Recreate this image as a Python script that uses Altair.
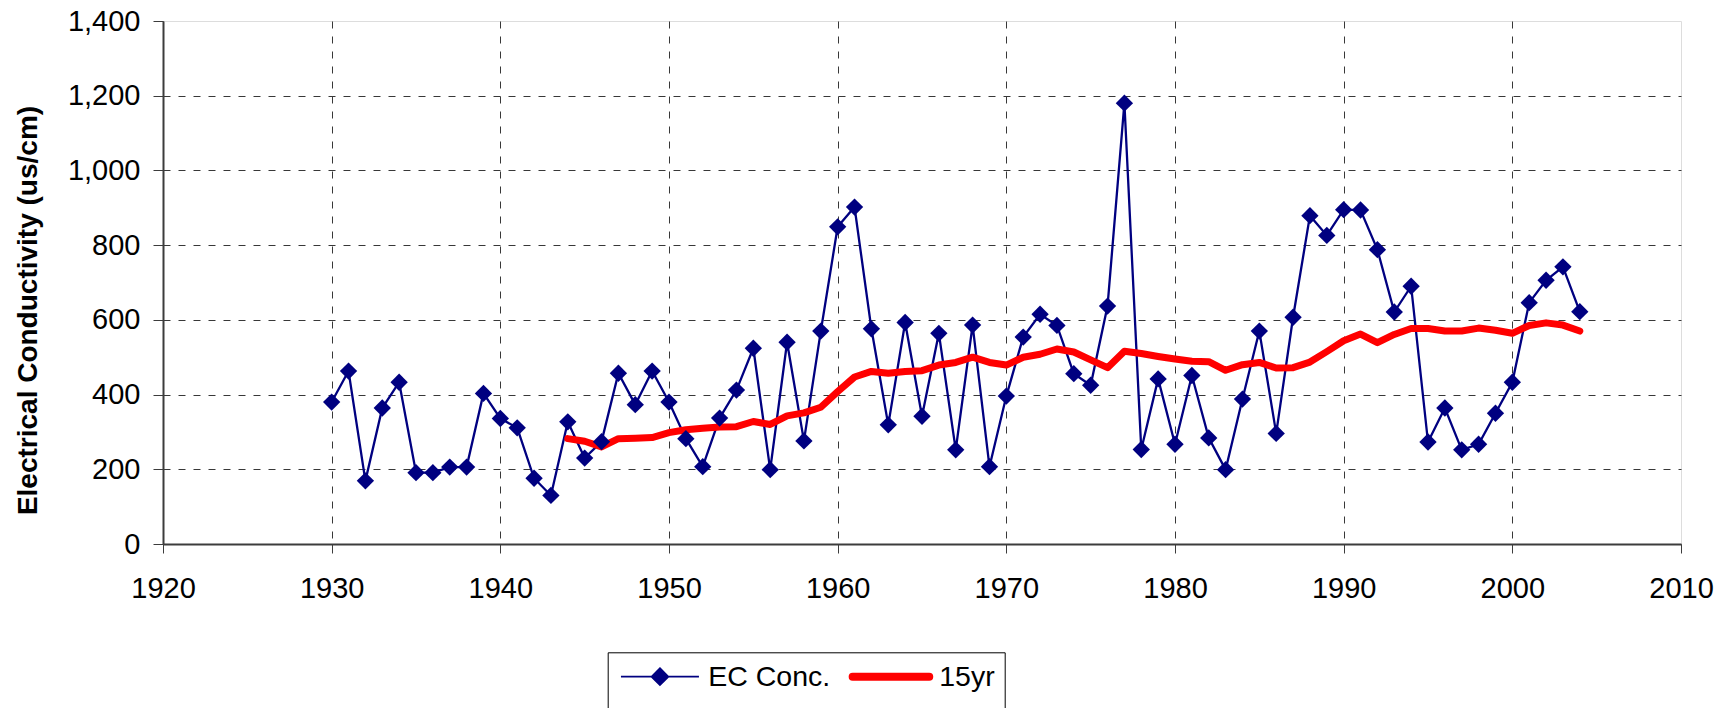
import altair as alt
import pandas as pd

# ---- data ----
ec_years = list(range(1930, 2005))
ec_values = [380, 463, 169, 364, 433, 191, 191, 206, 206, 403,
             336, 311, 176, 130, 327, 230, 274, 457, 373, 463,
             380, 282, 207, 337, 412, 524, 199, 540, 276, 570,
             849, 902, 576, 319, 593, 342, 564, 252, 586, 207,
             396, 554, 615, 585, 456, 425, 637, 1180, 253, 442,
             267, 451, 284, 199, 388, 570, 296, 607, 879, 826,
             895, 894, 788, 621, 690, 273, 364, 252, 267, 350,
             433, 646, 706, 742, 622]

avg_years = list(range(1944, 2005))
avg_values = [282, 275, 260, 282, 283, 285, 298, 306, 310, 313,
              314, 328, 320, 343, 351, 366, 408, 447, 462, 457,
              462, 464, 479, 486, 500, 486, 479, 500, 508, 522,
              514, 493, 472, 516, 510, 502, 495, 489, 488, 465,
              480, 486, 471, 472, 487, 515, 544, 562, 539, 561,
              577, 577, 570, 570, 578, 572, 564, 585, 592, 586, 570]

series_names = ["EC Conc.", "15yr"]
series_colors = ["#000080", "#ff0000"]
x_ticks = [1920, 1930, 1940, 1950, 1960, 1970, 1980, 1990, 2000, 2010]
y_ticks = [0, 200, 400, 600, 800, 1000, 1200, 1400]

ec_df = pd.DataFrame({"year": ec_years, "value": ec_values, "series": series_names[0]})
avg_df = pd.DataFrame({"year": avg_years, "value": avg_values, "series": series_names[1]})
all_df = pd.concat([ec_df, avg_df], ignore_index=True)

FONT = "Liberation Sans"
GRID = "#383838"

x_axis = alt.Axis(
    values=x_ticks, format="d", title=None,
    labelFont=FONT, labelFontSize=29, labelColor="black",
    labelPadding=21, labelFlush=False, labelOverlap=False,
    tickSize=9, tickColor="#3c3c3c", tickWidth=1,
    domainColor="#3c3c3c", domainWidth=2,
    grid=True, gridColor=GRID, gridDash=[7, 8], gridWidth=1,
    gridOpacity={"condition": {"test": "datum.value === 2010", "value": 0}, "value": 1},
)
y_axis = alt.Axis(
    values=y_ticks, format=",d",
    title="Electrical Conductivity (us/cm)",
    titleFont=FONT, titleFontSize=28, titleFontWeight="bold", titleColor="black",
    titleAngle=270, titleAlign="center", titleBaseline="alphabetic",
    titleX=-126.6, titleY=289,
    labelFont=FONT, labelFontSize=29, labelColor="black",
    labelPadding=13, labelOverlap=False,
    tickSize=10, tickColor="#3c3c3c", tickWidth=1,
    domainColor="#3c3c3c", domainWidth=2,
    grid=True, gridColor=GRID, gridDash=[7, 8], gridWidth=1,
    gridOpacity={"condition": {"test": "datum.value === 1400", "value": 0}, "value": 1},
)

x_enc = alt.X("year:Q", scale=alt.Scale(domain=[1920, 2010], nice=False, zero=False), axis=x_axis)
y_enc = alt.Y("value:Q", scale=alt.Scale(domain=[0, 1400], nice=False), axis=y_axis)

ec_line = alt.Chart(ec_df).mark_line(color=series_colors[0], strokeWidth=2.3).encode(x=x_enc, y=y_enc)
avg_line = alt.Chart(avg_df).mark_line(
    color=series_colors[1], strokeWidth=7, strokeCap="round", strokeJoin="round"
).encode(x=x_enc, y=y_enc)
ec_points = alt.Chart(ec_df).mark_point(
    shape="diamond", filled=True, color=series_colors[0], size=300, opacity=1
).encode(x=x_enc, y=y_enc)

# legend symbols (custom paths: line+diamond, thick rounded bar)
ec_symbol = "M-3.9,0L3.9,0M0,-0.85L0.85,0L0,0.85L-0.85,0Z"
avg_symbol = "M-3.83,-0.32L3.83,-0.32A0.32,0.32,0,0,1,3.83,0.32L-3.83,0.32A0.32,0.32,0,0,1,-3.83,-0.32Z"

legend = alt.Legend(
    orient="none", legendX=444.7, legendY=631.3, direction="horizontal",
    titleOrient="bottom", titlePadding=6, titleFontSize=28, titleFont=FONT,
    padding=10, strokeColor="black", fillColor="white",
    symbolSize=400, symbolStrokeWidth=1.6, symbolOffset=28, symbolOpacity=1,
    symbolFillColor="#000080",
    labelOffset=34, columnPadding=15,
    labelFont=FONT, labelFontSize=28.5, labelColor="black", labelLimit=0,
)

legend_layer = alt.Chart(all_df).transform_filter("datum.year < 0").mark_point(filled=True).encode(
    x=x_enc, y=y_enc,
    fill=alt.Fill("series:N", title=" ", legend=legend,
                  scale=alt.Scale(domain=series_names, range=series_colors)),
    stroke=alt.Stroke("series:N", title=" ", legend=legend,
                      scale=alt.Scale(domain=series_names, range=series_colors)),
    shape=alt.Shape("series:N", title=" ", legend=legend,
                    scale=alt.Scale(domain=series_names, range=[ec_symbol, avg_symbol])),
)

chart = alt.layer(ec_line, avg_line, ec_points, legend_layer).properties(
    width=1518, height=523,
    autosize=alt.AutoSizeParams(type="none"),
    padding={"left": 155, "top": 13, "right": 43, "bottom": 164},
).configure_view(
    stroke="#868686", strokeWidth=2
).configure(font=FONT)

chart.save("out.html", embed_options={"renderer": "svg", "actions": False})
